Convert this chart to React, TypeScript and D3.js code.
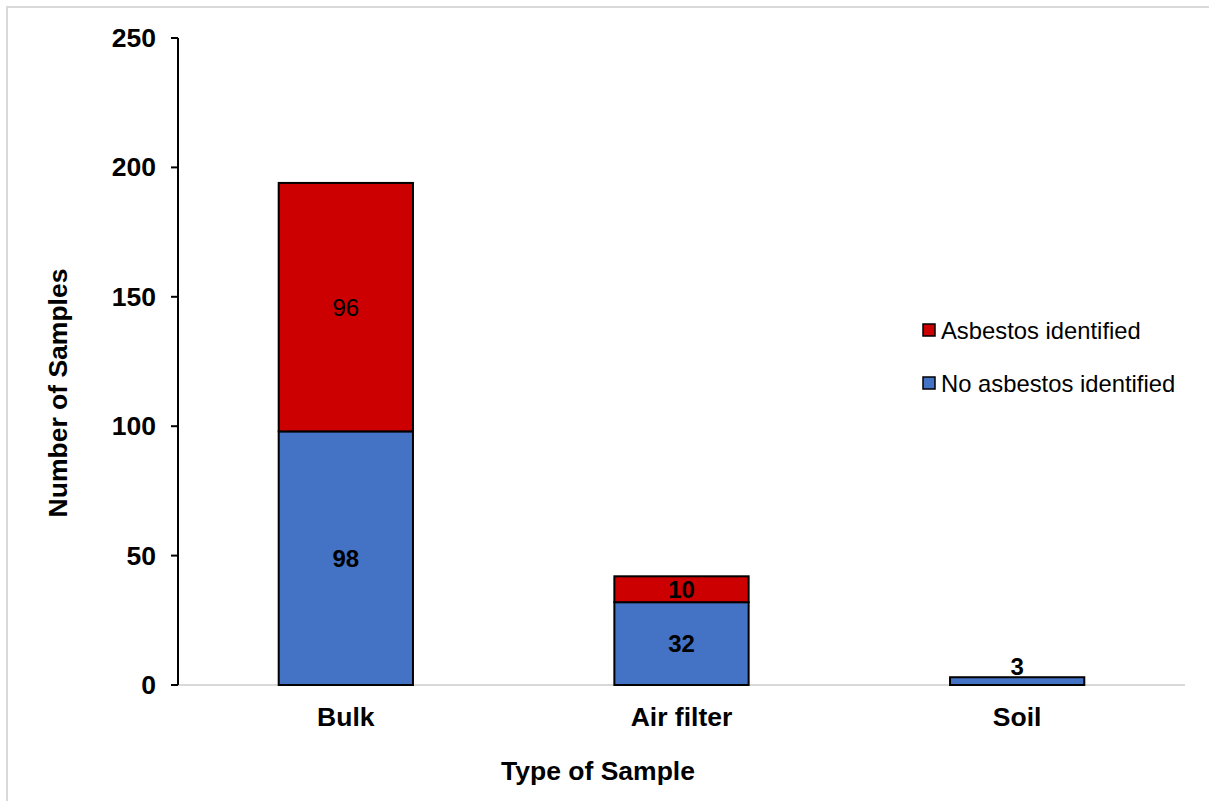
import React from "react";
import * as d3 from "d3";

const categories = ["Bulk", "Air filter", "Soil"];
const noAsbestos = [98, 32, 3];
const asbestos = [96, 10, 0];
const yTicks = [0, 50, 100, 150, 200, 250];
const seriesNames = ["Asbestos identified", "No asbestos identified"];
const seriesColors = ["#CC0000", "#4472C4"];

const W = 1209;
const H = 801;
const FONT = "'Liberation Sans', Arial, sans-serif";

export default function App() {
  const x = d3.scaleBand<string>().domain(categories).range([178, 1185]).paddingInner(0.6).paddingOuter(0.3);
  const y = d3.scaleLinear().domain([0, 250]).range([685, 38]);
  const bw = x.bandwidth();

  const rows = categories.map((c, i) => ({ c, no: noAsbestos[i], yes: asbestos[i] }));
  const stack = d3.stack<any>().keys(["no", "yes"])(rows as any);

  return (
    <svg width={W} height={H} style={{ position: "absolute", left: 0, top: 0, fontFamily: FONT }}>
      <rect x={0} y={0} width={W} height={H} fill="#fff" />
      <rect x={7} y={7} width={W + 50} height={H + 50} fill="none" stroke="#d9d9d9" strokeWidth={2} />

      {/* x axis line */}
      <line x1={178} x2={1185} y1={y(0)} y2={y(0)} stroke="#d9d9d9" strokeWidth={2} />

      {/* bars */}
      {stack.map((s, si) =>
        s.map((d: any, i: number) => {
          const h = y(d[0]) - y(d[1]);
          if (h <= 0) return null;
          return (
            <rect
              key={`${si}-${i}`}
              x={x(categories[i])!}
              y={y(d[1])}
              width={bw}
              height={h}
              fill={si === 0 ? seriesColors[1] : seriesColors[0]}
              stroke="#000"
              strokeWidth={2}
            />
          );
        })
      )}

      {/* data labels */}
      {stack.map((s, si) =>
        s.map((d: any, i: number) => {
          const v = d[1] - d[0];
          if (v <= 0) return null;
          const cx = x(categories[i])! + bw / 2;
          const small = v < 5;
          const cy = small ? y(d[1]) - 11 : y((d[0] + d[1]) / 2);
          const bold = !(si === 1 && i === 0);
          return (
            <text
              key={`l-${si}-${i}`}
              x={cx}
              y={cy}
              textAnchor="middle"
              dominantBaseline="central"
              fontSize={24}
              fontWeight={bold ? "bold" : "normal"}
              fill="#000"
            >
              {v}
            </text>
          );
        })
      )}

      {/* y axis */}
      <line x1={178} x2={178} y1={y(250)} y2={y(0)} stroke="#000" strokeWidth={2} />
      {yTicks.map((t) => (
        <g key={t}>
          <line x1={171} x2={178} y1={y(t)} y2={y(t)} stroke="#000" strokeWidth={2} />
          <text x={156} y={y(t)} textAnchor="end" dominantBaseline="central" fontSize={26.5} fontWeight="bold" fill="#000">
            {t}
          </text>
        </g>
      ))}

      {/* category labels */}
      {categories.map((c) => (
        <text key={c} x={x(c)! + bw / 2} y={717} textAnchor="middle" dominantBaseline="central" fontSize={26.5} fontWeight="bold" fill="#000">
          {c}
        </text>
      ))}

      {/* axis titles */}
      <text x={598} y={771} textAnchor="middle" dominantBaseline="central" fontSize={26.5} fontWeight="bold" fill="#000">
        Type of Sample
      </text>
      <text
        transform={`translate(58,393) rotate(-90)`}
        textAnchor="middle"
        dominantBaseline="central"
        fontSize={26.5}
        fontWeight="bold"
        fill="#000"
      >
        Number of Samples
      </text>

      {/* legend */}
      {seriesNames.map((n, i) => (
        <g key={n} transform={`translate(923, ${330 + i * 53})`}>
          <rect x={0} y={-6} width={12} height={12} fill={seriesColors[i]} stroke="#000" strokeWidth={1.5} />
          <text x={18} y={0} dominantBaseline="central" fontSize={23.8} fill="#000">
            {n}
          </text>
        </g>
      ))}
    </svg>
  );
}
